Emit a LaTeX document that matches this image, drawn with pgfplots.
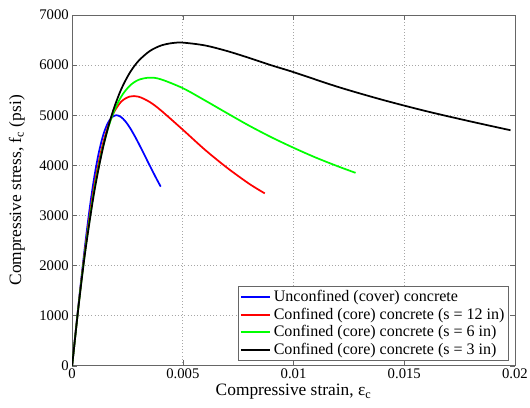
\documentclass[border=0pt]{standalone}
\usepackage{pgfplots}
\pgfplotsset{compat=1.18}
\usetikzlibrary{calc}
\usepackage{fontspec}
\setmainfont{Liberation Serif}
\definecolor{mblue}{RGB}{0,0,255}
\definecolor{mred}{RGB}{255,0,0}
\definecolor{mgreen}{RGB}{0,255,0}
\begin{document}
\begin{tikzpicture}
\begin{axis}[
  name=ax,
  scale only axis,
  width=331.5pt, height=262.5pt,
  xmin=0, xmax=0.02, ymin=0, ymax=7000,
  xtick={0,0.005,0.01,0.015,0.02},
  xticklabels={0,0.005,0.01,0.015,0.02},
  ytick={0,1000,2000,3000,4000,5000,6000,7000},
  yticklabels={0,1000,2000,3000,4000,5000,6000,7000},
  scaled ticks=false,
  tick label style={font=\fontsize{11}{12}\selectfont, black},
  xticklabel style={yshift=1pt},
  yticklabel style={xshift=1pt},
  label style={font=\fontsize{13}{14}\selectfont},
  xlabel={Compressive strain, ε\textsubscript{c}},
  ylabel={Compressive stress, f\textsubscript{c} (psi)},
  xlabel style={yshift=3pt},
  ylabel style={yshift=4pt},
  grid=major,
  major grid style={dotted, gray!70, line width=0.6pt},
  axis line style={gray!80!black},
  major tick style={gray!80!black},
  tick align=inside,
  major tick length=4pt,
  legend style={font=\fontsize{12}{13.5}\selectfont, at={(0.986,0.014)}, anchor=south east,
    draw=gray!80!black, fill=white, inner sep=1pt, row sep=-0.8pt, cells={anchor=west}},
  legend image code/.code={\draw[#1] plot coordinates {(0pt,0pt) (11pt,0pt) (22pt,0pt)};},
]
\addplot[mblue, line width=1.3pt, smooth] coordinates {
  (0,0) (0.0002,850) (0.0004,1680) (0.0006,2462) (0.0008,3166) (0.001,3765)
  (0.0012,4244) (0.0014,4599) (0.0016,4833) (0.0018,4961) (0.002,5000)
  (0.0022,4967) (0.0024,4881) (0.0026,4757) (0.0028,4606) (0.003,4440)
  (0.0032,4266) (0.0034,4088) (0.0036,3912) (0.0038,3740) (0.004,3574)
};
\addlegendentry{Unconfined (cover) concrete}
\addplot[mred, line width=1.3pt, smooth] coordinates {
  (0,0) (0.0003,1248) (0.0006,2378) (0.001,3595) (0.0014,4448) (0.0018,4979)
  (0.0022,5263) (0.0026,5372) (0.003,5370) (0.0035,5265) (0.004,5100)
  (0.005,4710) (0.006,4310) (0.007,3950) (0.008,3630) (0.0087,3440)
};
\addlegendentry{Confined (core) concrete (s = 12 in)}
\addplot[mgreen, line width=1.3pt, smooth] coordinates {
  (0,0) (0.0003,1237) (0.0006,2336) (0.001,3520) (0.0014,4383) (0.0018,4976)
  (0.0022,5359) (0.0026,5587) (0.003,5706) (0.0035,5750) (0.004,5718)
  (0.005,5540) (0.006,5295) (0.007,5040) (0.008,4790) (0.009,4560)
  (0.010,4350) (0.011,4155) (0.012,3980) (0.0128,3850)
};
\addlegendentry{Confined (core) concrete (s = 6 in)}
\addplot[black, line width=1.3pt, smooth] coordinates {
  (0,0) (0.0003,1225) (0.0006,2301) (0.001,3471) (0.0014,4362) (0.0018,5022)
  (0.0022,5502) (0.0026,5845) (0.003,6085) (0.0035,6279) (0.004,6389)
  (0.0045,6439) (0.005,6449) (0.006,6393) (0.007,6281) (0.008,6143)
  (0.009,5996) (0.010,5860) (0.012,5566) (0.014,5309) (0.016,5080)
  (0.018,4875) (0.0198,4700)
};
\addlegendentry{Confined (core) concrete (s = 3 in)}
\end{axis}
\pgfresetboundingbox
\path ($(ax.south west)+(-54pt,-31.5pt)$) rectangle ($(ax.north east)+(11.25pt,11.25pt)$);
\end{tikzpicture}
\end{document}
